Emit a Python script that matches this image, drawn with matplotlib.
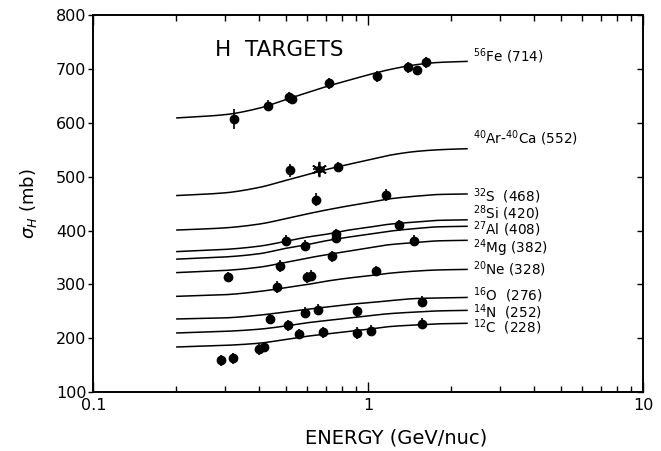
import numpy as np
import matplotlib
matplotlib.use('Agg')
import matplotlib.pyplot as plt
from matplotlib.ticker import FixedLocator, FixedFormatter, NullFormatter

plt.rcParams['font.family'] = ['DejaVu Sans']
plt.rcParams['mathtext.fontset'] = 'dejavusans'

# ---------------- data ----------------
curve_energy = [0.2, 0.3, 0.4, 0.5, 0.6, 0.7, 0.85, 1.0, 1.2, 1.5, 1.8, 2.3]
curve_fe   = [609, 615, 627, 643, 656, 667, 679, 689, 699, 708, 712, 714]
curve_arca = [465, 470, 480, 493, 504, 513, 523, 531, 540, 547, 550, 552]
curve_s    = [401, 405, 412, 422, 431, 438, 446, 452, 459, 464, 467, 468]
curve_si   = [361, 365, 371, 380, 388, 393, 401, 406, 412, 416, 419, 420]
curve_al   = [347, 351, 357, 367, 374, 381, 388, 393, 399, 404, 407, 408]
curve_mg   = [322, 326, 332, 341, 349, 355, 362, 368, 374, 378, 381, 382]
curve_ne   = [278, 281, 287, 294, 300, 306, 312, 316, 321, 325, 327, 328]
curve_o    = [236, 238, 243, 249, 254, 258, 263, 266, 270, 274, 275, 276]
curve_n    = [210, 213, 217, 223, 229, 233, 238, 242, 246, 249, 251, 252]
curve_c    = [184, 187, 191, 198, 204, 208, 213, 217, 222, 225, 227, 228]

curve_labels = [r'$^{56}$Fe (714)', r'$^{40}$Ar-$^{40}$Ca (552)', r'$^{32}$S  (468)',
                r'$^{28}$Si (420)', r'$^{27}$Al (408)', r'$^{24}$Mg (382)',
                r'$^{20}$Ne (328)', r'$^{16}$O  (276)', r'$^{14}$N  (252)',
                r'$^{12}$C  (228)']

fe_e = [0.326, 0.433, 0.515, 0.530, 0.721, 1.078, 1.398, 1.507, 1.621]
fe_s = [607, 632, 647, 644, 673, 686, 703, 698, 712]
fe_err = [19, 11, 10, 10, 10, 10, 10, 8, 10]

arca_e = [0.517, 0.774]
arca_s = [512, 518]
arca_err = [12, 10]

star_e = [0.662]
star_s = [514]
star_err = [12]
star_xerr = [0.035]

s_e = [0.644, 1.159]
s_s = [457, 466]
s_err = [12, 11]

si_e = [0.501, 1.296]
si_s = [381, 410]
si_err = [10, 9]

al_e = [0.589, 0.763, 0.763]
al_s = [372, 393, 387]
al_err = [10, 10, 10]

mg_e = [0.310, 0.478, 0.736, 1.470]
mg_s = [314, 335, 352, 381]
mg_err = [10, 11, 11, 10]

ne_e = [0.464, 0.600, 0.619, 1.064]
ne_s = [295, 313, 316, 325]
ne_err = [11, 10, 10, 10]

o_e = [0.439, 0.589, 0.655, 1.564]
o_s = [236, 248, 253, 268]
o_err = [10, 10, 10, 10]

n_e = [0.512, 0.912]
n_s = [224, 250]
n_err = [10, 10]

c_e = [0.291, 0.323, 0.402, 0.419, 0.560, 0.686, 0.912, 1.020, 1.564]
c_s = [159, 163, 180, 184, 208, 211, 210, 214, 227]
c_err = [10, 10, 10, 10, 10, 10, 11, 10, 10]

x_ticks = [0.1, 1, 10]
x_ticklabels = ['0.1', '1', '10']
y_ticks = [100, 200, 300, 400, 500, 600, 700, 800]

# ---------------- helpers ----------------
def smooth(xs, ys, n=200):
    """Monotone cubic (Fritsch-Carlson) through read points, in log-energy."""
    x = np.log10(np.asarray(xs, float))
    y = np.asarray(ys, float)
    h = np.diff(x)
    d = np.diff(y) / h
    m = np.zeros_like(y)
    m[0], m[-1] = d[0], d[-1]
    for i in range(1, len(y) - 1):
        if d[i - 1] * d[i] <= 0:
            m[i] = 0
        else:
            w1 = 2 * h[i] + h[i - 1]
            w2 = h[i] + 2 * h[i - 1]
            m[i] = (w1 + w2) / (w1 / d[i - 1] + w2 / d[i])
    xx = np.linspace(x[0], x[-1], n)
    yy = np.empty_like(xx)
    for j, xv in enumerate(xx):
        k = min(np.searchsorted(x, xv, side='right') - 1, len(x) - 2)
        t = (xv - x[k]) / h[k]
        h00 = 2 * t**3 - 3 * t**2 + 1
        h10 = t**3 - 2 * t**2 + t
        h01 = -2 * t**3 + 3 * t**2
        h11 = t**3 - t**2
        yy[j] = h00 * y[k] + h10 * h[k] * m[k] + h01 * y[k + 1] + h11 * h[k] * m[k + 1]
    return 10**xx, yy

# ---------------- figure ----------------
fig = plt.figure(figsize=(6.61, 4.51), dpi=100)
ax = fig.add_axes([0.1412, 0.1302, 0.8320, 0.8365])

curves = [curve_fe, curve_arca, curve_s, curve_si, curve_al, curve_mg,
          curve_ne, curve_o, curve_n, curve_c]
for vals in curves:
    xx, yy = smooth(curve_energy, vals)
    ax.plot(xx, yy, color='black', lw=1.1, solid_capstyle='butt')

# label layout (baseline positions, data units)
label_x = 2.41
label_base = [713, 561, 454, 422, 393, 359, 318, 270, 239, 210]
for txt, yb in zip(curve_labels, label_base):
    ax.text(label_x, yb, txt, fontsize=9.8, va='baseline', ha='left')

groups = [(fe_e, fe_s, fe_err), (arca_e, arca_s, arca_err), (s_e, s_s, s_err),
          (si_e, si_s, si_err), (al_e, al_s, al_err), (mg_e, mg_s, mg_err),
          (ne_e, ne_s, ne_err), (o_e, o_s, o_err), (n_e, n_s, n_err),
          (c_e, c_s, c_err)]
for e, s, err in groups:
    ax.errorbar(e, s, yerr=err, fmt='o', color='black', ms=6.0,
                elinewidth=1.2, capsize=0, zorder=3)

ax.errorbar(star_e, star_s, yerr=star_err, xerr=star_xerr, fmt='o',
            color='black', ms=4.5, elinewidth=1.2, capsize=0, zorder=3)
ax.plot(star_e, star_s, marker=(6, 2, 0), color='black', ms=11,
        mew=1.2, ls='none', zorder=3)

ax.text(0.221, 0.892, 'H  TARGETS', transform=ax.transAxes, fontsize=15.5,
        va='baseline', ha='left')

ax.set_xscale('log')
ax.set_xlim(0.1, 10)
ax.set_ylim(100, 800)

ax.xaxis.set_major_locator(FixedLocator(x_ticks))
ax.xaxis.set_major_formatter(FixedFormatter(x_ticklabels))
ax.xaxis.set_minor_locator(FixedLocator([k * 0.1 for k in range(2, 10)] +
                                        [k * 1.0 for k in range(2, 10)]))
ax.xaxis.set_minor_formatter(NullFormatter())
ax.yaxis.set_major_locator(FixedLocator(y_ticks))
ax.yaxis.set_minor_locator(FixedLocator([]))

ax.tick_params(axis='x', which='both', direction='in', top=True, bottom=True,
               labelsize=11.5, pad=4, width=1.0)
ax.tick_params(axis='x', which='major', length=7)
ax.tick_params(axis='x', which='minor', length=4.5)
ax.tick_params(axis='y', which='major', direction='out', left=True, right=False,
               length=3.5, width=1.0, labelsize=11.5, pad=1.5)

# right-hand inward ticks
ax2 = ax.twinx()
ax2.set_ylim(100, 800)
ax2.yaxis.set_major_locator(FixedLocator(y_ticks))
ax2.tick_params(axis='y', direction='in', length=4, width=1.0, labelright=False)

for a in (ax, ax2):
    for sp in a.spines.values():
        sp.set_linewidth(1.2)

ax.set_xlabel('ENERGY (GeV/nuc)', fontsize=14)
ax.xaxis.set_label_coords(0.55, -0.095)
ax.set_ylabel(r'$\sigma_H$ (mb)', fontsize=13)
ax.yaxis.set_label_coords(-0.098, 0.5)

fig.savefig('out.png', dpi=100)
